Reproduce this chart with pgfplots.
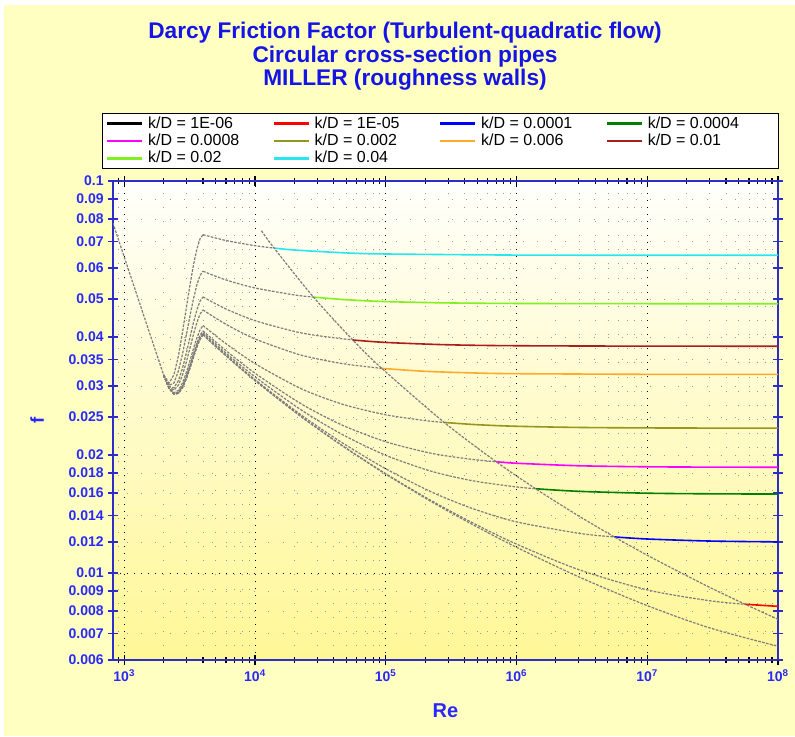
\documentclass[border=0pt]{standalone}
\usepackage{fontspec}
\setmainfont{Liberation Sans}
\usepackage{pgfplots}
\pgfplotsset{compat=1.18}
\definecolor{bgyel}{RGB}{255,255,194}
\definecolor{plotbot}{RGB}{255,247,150}
\definecolor{plottop}{RGB}{255,255,252}
\definecolor{axblue}{RGB}{45,45,200}
\definecolor{lblblue}{RGB}{40,40,255}
\definecolor{ttlblue}{RGB}{20,20,230}
\definecolor{curvegray}{RGB}{125,125,125}
\definecolor{cRED}{RGB}{255,0,0}
\definecolor{cBLUE}{RGB}{0,0,255}
\definecolor{cMAG}{RGB}{255,0,255}
\definecolor{cOLIVE}{RGB}{150,150,30}
\definecolor{cORANGE}{RGB}{255,170,40}
\definecolor{cBROWN}{RGB}{170,30,30}
\definecolor{cLIME}{RGB}{128,240,30}
\definecolor{cCYAN}{RGB}{40,230,240}
\definecolor{cGREEN}{RGB}{0,128,0}

\begin{document}
\begin{tikzpicture}
\fill[white] (0,0) rectangle (596.25pt,-552pt);
\fill[bgyel] (3pt,-3.75pt) rectangle (596.25pt,-552pt);
\begin{axis}[
    at={(84.75pt,-495pt)}, anchor=south west,
    scale only axis, width=498.75pt, height=359.25pt,
    xmode=log, ymode=log,
    xmin=820, xmax=1e8, ymin=0.006, ymax=0.1,
    axis background/.style={top color=plottop, bottom color=plotbot},
    axis line style={draw=axblue, line width=1.4pt},
    xtick={1e3,1e4,1e5,1e6,1e7,1e8},
    xticklabels={10\textsuperscript{3},10\textsuperscript{4},10\textsuperscript{5},10\textsuperscript{6},10\textsuperscript{7},10\textsuperscript{8}},
    minor xtick={800,900,2e3,3e3,4e3,5e3,6e3,7e3,8e3,9e3,2e4,3e4,4e4,5e4,6e4,7e4,8e4,9e4,2e5,3e5,4e5,5e5,6e5,7e5,8e5,9e5,2e6,3e6,4e6,5e6,6e6,7e6,8e6,9e6,2e7,3e7,4e7,5e7,6e7,7e7,8e7,9e7},
    ytick={0.006,0.007,0.008,0.009,0.01,0.012,0.014,0.016,0.018,0.02,0.025,0.03,0.035,0.04,0.05,0.06,0.07,0.08,0.09,0.1},
    yticklabels={0.006,0.007,0.008,0.009,0.01,0.012,0.014,0.016,0.018,0.02,0.025,0.03,0.035,0.04,0.05,0.06,0.07,0.08,0.09,0.1},
    ticklabel style={font=\bfseries\fontsize{10.5}{12}\selectfont, text=lblblue},
    tick align=center,
    major tick length=7pt, minor tick length=4.5pt,
    x tick style={black, line width=0.8pt},
    y tick style={axblue, line width=1pt},
    xmajorgrids, xminorgrids, ymajorgrids,
    major x grid style={black, line width=0.7pt, dash pattern=on 0.7pt off 4.6pt},
    minor x grid style={gray!80, line width=0.6pt, dash pattern=on 0.6pt off 10pt},
    major y grid style={gray!80, line width=0.6pt, dash pattern=on 0.6pt off 10pt},
    extra y ticks={0.01}, extra y tick labels={},
    extra y tick style={major y grid style={black, line width=0.7pt, dash pattern=on 0.7pt off 4.6pt}},
    xlabel={Re}, ylabel={f},
    xlabel style={at={(axis description cs:0.5,-0.1065)}, anchor=center, font=\bfseries\fontsize{15}{17}\selectfont, text=lblblue},
    ylabel style={at={(axis description cs:-0.1143,0.5)}, anchor=center, font=\bfseries\fontsize{14}{16}\selectfont, text=lblblue},
    legend columns=4,
    legend image code/.code={\fill[#1] (0pt,-0.6pt) rectangle (25.5pt,0.6pt);},
    legend style={at={(axis description cs:-0.0165,1.142)}, anchor=north west,
        draw=black, fill=white, font=\fontsize{12}{14}\selectfont,
        inner xsep=3.5pt, inner ysep=1.5pt, nodes={inner sep=1pt}, row sep=0.8pt,
        /tikz/every odd column/.append style={column sep=4pt}},
    gr/.style={curvegray, line width=0.9pt, dash pattern=on 2pt off 1pt},
    cl/.style={line width=1.2pt, smooth},
]
\addlegendimage{black}\addlegendentry{\makebox[93pt][l]{k/D = 1E-06}}
\addlegendimage{cRED}\addlegendentry{\makebox[93pt][l]{k/D = 1E-05}}
\addlegendimage{cBLUE}\addlegendentry{\makebox[93pt][l]{k/D = 0.0001}}
\addlegendimage{cGREEN}\addlegendentry{\makebox[93pt][l]{k/D = 0.0004}}
\addlegendimage{cMAG}\addlegendentry{\makebox[93pt][l]{k/D = 0.0008}}
\addlegendimage{cOLIVE}\addlegendentry{\makebox[93pt][l]{k/D = 0.002}}
\addlegendimage{cORANGE}\addlegendentry{\makebox[93pt][l]{k/D = 0.006}}
\addlegendimage{cBROWN}\addlegendentry{\makebox[93pt][l]{k/D = 0.01}}
\addlegendimage{cLIME}\addlegendentry{\makebox[93pt][l]{k/D = 0.02}}
\addlegendimage{cCYAN}\addlegendentry{\makebox[93pt][l]{k/D = 0.04}}

% laminar branch
\addplot[gr, forget plot] coordinates {(800,0.08) (2000,0.032)};

% transition 2000-4000 (cubic interpolation), one per k/D
\addplot[gr, forget plot] coordinates {(2000,0.032) (2200,0.029590) (2400,0.028589) (2600,0.028741) (2800,0.029789) (3000,0.031477) (3200,0.033549) (3400,0.035749) (3600,0.037820) (3800,0.039506) (4000,0.040550)};
\addplot[gr, forget plot] coordinates {(2000,0.032) (2200,0.029590) (2400,0.028590) (2600,0.028743) (2800,0.029793) (3000,0.031482) (3200,0.033556) (3400,0.035757) (3600,0.037829) (3800,0.039516) (4000,0.040560)};
\addplot[gr, forget plot] coordinates {(2000,0.032) (2200,0.029593) (2400,0.028602) (2600,0.028767) (2800,0.029832) (3000,0.031538) (3200,0.033627) (3400,0.035842) (3600,0.037926) (3800,0.039619) (4000,0.040665)};
\addplot[gr, forget plot] coordinates {(2000,0.032) (2200,0.029604) (2400,0.028640) (2600,0.028847) (2800,0.029961) (3000,0.031720) (3200,0.033863) (3400,0.036125) (3600,0.038246) (3800,0.039963) (4000,0.041012)};
\addplot[gr, forget plot] coordinates {(2000,0.032) (2200,0.029617) (2400,0.028690) (2600,0.028951) (2800,0.030130) (3000,0.031959) (3200,0.034171) (3400,0.036495) (3600,0.038665) (3800,0.040412) (4000,0.041467)};
\addplot[gr, forget plot] coordinates {(2000,0.032) (2200,0.029657) (2400,0.028837) (2600,0.029254) (2800,0.030622) (3000,0.032655) (3200,0.035068) (3400,0.037575) (3600,0.039889) (3800,0.041725) (4000,0.042797)};
\addplot[gr, forget plot] coordinates {(2000,0.032) (2200,0.029777) (2400,0.029283) (2600,0.030178) (2800,0.032124) (3000,0.034782) (3200,0.037814) (3400,0.040879) (3600,0.043640) (3800,0.045758) (4000,0.046894)};
\addplot[gr, forget plot] coordinates {(2000,0.032) (2200,0.029885) (2400,0.029683) (2600,0.031008) (2800,0.033474) (3000,0.036695) (3200,0.040285) (3400,0.043858) (3600,0.047027) (3800,0.049407) (4000,0.050612)};
\addplot[gr, forget plot] coordinates {(2000,0.032) (2200,0.030122) (2400,0.030563) (2600,0.032833) (2800,0.036444) (3000,0.040906) (3200,0.045730) (3400,0.050427) (3600,0.054508) (3800,0.057485) (4000,0.058867)};
\addplot[gr, forget plot] coordinates {(2000,0.032) (2200,0.030523) (2400,0.032051) (2600,0.035922) (2800,0.041473) (3000,0.048042) (3200,0.054967) (3400,0.061585) (3600,0.067236) (3800,0.071255) (4000,0.072982)};

% turbulent (Miller) branch up to the fully rough limit
\addplot[gr, smooth, forget plot] coordinates {(4000,0.040550) (6000,0.035834) (1e4,0.030974) (2e4,0.025817) (3e4,0.023376) (5e4,0.020766) (1e5,0.017869) (2e5,0.015540) (3e5,0.014385) (5e5,0.013107) (1e6,0.011632) (3e6,0.0097761) (1e7,0.0082582) (3e7,0.0072487) (1e8,0.0065058)};
\addplot[gr, smooth, forget plot] coordinates {(4000,0.040560) (6000,0.035846) (1e4,0.030990) (2e4,0.025839) (3e4,0.023404) (5e4,0.020803) (1e5,0.017924) (2e5,0.015624) (3e5,0.014491) (5e5,0.013252) (1e6,0.011853) (3e6,0.010200) (1e7,0.0090585) (3e7,0.0084998) (5.6e7,0.0083256)};
\addplot[gr, smooth, forget plot] coordinates {(4000,0.040665) (6000,0.036023) (1e4,0.031148) (2e4,0.026064) (3e4,0.023681) (5e4,0.021166) (1e5,0.018452) (2e5,0.016390) (3e5,0.015437) (5e5,0.014468) (1e6,0.013508) (3e6,0.012628) (5.6e6,0.012365)};
\addplot[gr, smooth, forget plot] coordinates {(4000,0.041012) (6000,0.036383) (1e4,0.031668) (2e4,0.026784) (3e4,0.024555) (5e4,0.022279) (1e5,0.019970) (2e5,0.018386) (3e5,0.017727) (5e5,0.017117) (1e6,0.016582) (1.4e6,0.016410)};
\addplot[gr, smooth, forget plot] coordinates {(4000,0.041467) (6000,0.036922) (1e4,0.032339) (2e4,0.027688) (3e4,0.025626) (5e4,0.023586) (1e5,0.021621) (2e5,0.020364) (3e5,0.019870) (5e5,0.019431) (7e5,0.019226)};
\addplot[gr, smooth, forget plot] coordinates {(4000,0.042797) (6000,0.038473) (1e4,0.034222) (2e4,0.030106) (3e4,0.028384) (5e4,0.026772) (1e5,0.025333) (2e5,0.024486) (2.8e5,0.024218)};
\addplot[gr, smooth, forget plot] coordinates {(4000,0.046894) (6000,0.043102) (1e4,0.039562) (2e4,0.036397) (3e4,0.035175) (5e4,0.034100) (93333,0.033271)};
\addplot[gr, smooth, forget plot] coordinates {(4000,0.050612) (6000,0.047167) (1e4,0.044042) (2e4,0.041345) (3e4,0.040336) (5.6e4,0.039317)};
\addplot[gr, smooth, forget plot] coordinates {(4000,0.058867) (6000,0.055934) (1e4,0.053362) (2e4,0.051226) (2.8e4,0.050564)};
\addplot[gr, smooth, forget plot] coordinates {(4000,0.072982) (6000,0.070514) (1e4,0.068402) (1.4e4,0.067441)};

% fully rough (quadratic) zone
\addplot[cl, cRED, forget plot] coordinates {(5.6e7,0.0083256) (1e8,0.0082238)};
\addplot[cl, cBLUE, forget plot] coordinates {(5.6e6,0.012365) (1e7,0.012214) (3e7,0.012069) (1e8,0.012010)};
\addplot[cl, cGREEN, forget plot] coordinates {(1.4e6,0.016410) (3e6,0.016160) (1e7,0.015985) (3e7,0.015927) (1e8,0.015904)};
\addplot[cl, cMAG, forget plot] coordinates {(7e5,0.019226) (1e6,0.019062) (3e6,0.018782) (1e7,0.018669) (3e7,0.018633) (1e8,0.018618)};
\addplot[cl, cOLIVE, forget plot] coordinates {(2.8e5,0.024218) (5e5,0.023901) (1e6,0.023680) (3e6,0.023518) (1e7,0.023454) (3e7,0.023433) (1e8,0.023425)};
\addplot[cl, cORANGE, forget plot] coordinates {(93333,0.033271) (2e5,0.032706) (5e5,0.032377) (1e6,0.032256) (1e7,0.032133) (1e8,0.032118)};
\addplot[cl, cBROWN, forget plot] coordinates {(5.6e4,0.039317) (1e5,0.038751) (3e5,0.038222) (1e6,0.038012) (1e7,0.037917) (1e8,0.037905)};
\addplot[cl, cLIME, forget plot] coordinates {(2.8e4,0.050564) (5e4,0.049790) (1e5,0.049259) (3e5,0.048870) (1e6,0.048716) (1e7,0.048647) (1e8,0.048639)};
\addplot[cl, cCYAN, forget plot] coordinates {(1.4e4,0.067441) (2e4,0.066690) (5e4,0.065562) (1e5,0.065150) (1e6,0.064731) (1e7,0.064679) (1e8,0.064672)};

% limit of the fully rough zone
\addplot[gr, smooth, forget plot] coordinates {(11200,0.074709) (14000,0.067441) (28000,0.050564) (56000,0.039317) (93333,0.033271) (2.8e5,0.024218) (7e5,0.019226) (1.4e6,0.016410) (2.8e6,0.014173) (5.6e6,0.012365) (1.12e7,0.010883) (2.8e7,0.0093023) (5.6e7,0.0083256) (1e8,0.0076227)};
\end{axis}
\node[font=\bfseries\fontsize{17}{20}\selectfont, text=ttlblue] at (303.75pt,-24.75pt) {Darcy Friction Factor (Turbulent-quadratic flow)};
\node[font=\bfseries\fontsize{17}{20}\selectfont, text=ttlblue] at (303.75pt,-42.75pt) {Circular cross-section pipes};
\node[font=\bfseries\fontsize{17}{20}\selectfont, text=ttlblue] at (303.75pt,-60pt) {MILLER (roughness walls)};
\end{tikzpicture}
\end{document}
